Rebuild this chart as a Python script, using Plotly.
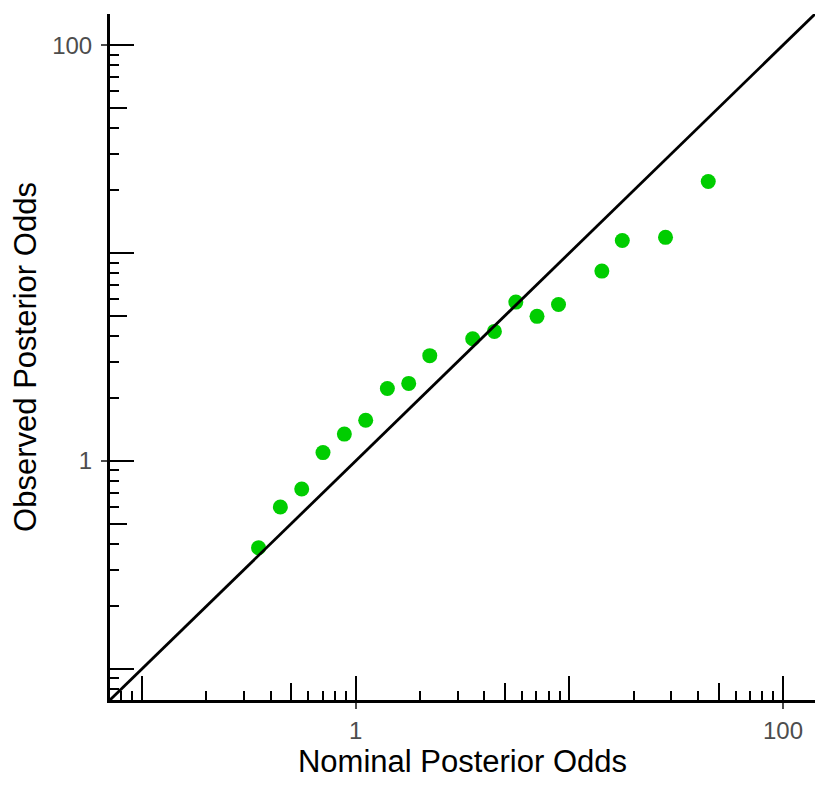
import plotly.graph_objects as go

# nominal vs observed posterior odds
nominal = [0.351, 0.444, 0.559, 0.703, 0.885, 1.114, 1.407, 1.771, 2.222,
           3.53, 4.46, 5.62, 7.06, 8.90, 14.2, 17.7, 28.2, 44.7]
observed = [0.382, 0.600, 0.733, 1.097, 1.346, 1.570, 2.23, 2.36, 3.21,
            3.87, 4.20, 5.81, 4.96, 5.66, 8.19, 11.5, 11.9, 22.1]

# y = x reference line end points
ref_line = [0.05, 200]

# log ticks (ggplot annotation_logticks style)
decades = [0.1, 1, 10, 100]
fives = [0.5, 5, 50]
others = [m * d for d in [0.01, 0.1, 1, 10, 100] for m in [2, 3, 4, 6, 7, 8, 9]]
label_vals = [1, 100]
label_text = ['1', '100']

axis_range = [-1.15, 2.15]
font_family = 'Liberation Sans, Arial, sans-serif'

fig = go.Figure()

fig.add_trace(go.Scatter(x=nominal, y=observed, mode='markers',
                         marker=dict(color='#00CD00', size=15, line=dict(width=0)),
                         showlegend=False))
fig.add_trace(go.Scatter(x=ref_line, y=ref_line, mode='lines',
                         line=dict(color='black', width=2.8), showlegend=False))

# empty traces so the overlay axes get drawn
for ax in ['2', '3']:
    fig.add_trace(go.Scatter(x=[], y=[], xaxis='x' + ax, yaxis='y' + ax,
                             showlegend=False, hoverinfo='skip'))

main_axis = dict(type='log', range=axis_range, showgrid=False, zeroline=False,
                 showline=True, linecolor='black', linewidth=3,
                 tickmode='array', tickvals=label_vals, ticktext=label_text,
                 ticks='outside', ticklen=6, tickwidth=2, tickcolor='#4D4D4D',
                 tickfont=dict(family=font_family, size=24, color='#4D4D4D'),
                 automargin=False)

long_axis = dict(type='log', range=axis_range, showgrid=False, zeroline=False,
                 showline=False, showticklabels=False,
                 tickmode='array', tickvals=decades, ticks='inside',
                 ticklen=24, tickwidth=2, tickcolor='black',
                 minor=dict(tickmode='array', tickvals=fives, ticks='inside',
                            ticklen=17, tickwidth=2, tickcolor='black',
                            showgrid=False))

short_axis = dict(type='log', range=axis_range, showgrid=False, zeroline=False,
                  showline=False, showticklabels=False,
                  tickmode='array', tickvals=others, ticks='inside',
                  ticklen=9, tickwidth=2, tickcolor='black')

fig.update_layout(
    width=822, height=780,
    margin=dict(l=102, r=15, t=6, b=88),
    paper_bgcolor='white', plot_bgcolor='white',
    font=dict(family=font_family, color='black'),
    xaxis=dict(main_axis, ticklabelstandoff=1,
               title=dict(text='Nominal Posterior Odds',
                          font=dict(size=31, color='black'), standoff=6)),
    yaxis=dict(main_axis, ticklabelstandoff=4,
               title=dict(text='Observed Posterior Odds',
                          font=dict(size=31, color='black'), standoff=10)),
    xaxis2=dict(long_axis, overlaying='x', anchor='y'),
    yaxis2=dict(long_axis, overlaying='y', anchor='x'),
    xaxis3=dict(short_axis, overlaying='x', anchor='y'),
    yaxis3=dict(short_axis, overlaying='y', anchor='x'),
)

fig.write_html('out.html')
